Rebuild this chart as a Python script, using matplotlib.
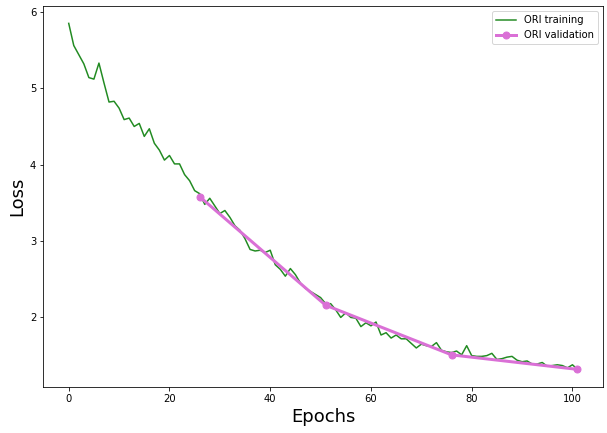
import matplotlib
matplotlib.use("Agg")
import matplotlib.pyplot as plt
import numpy as np

# training loss per epoch
train_loss = [
    5.85, 5.56, 5.44, 5.32, 5.14, 5.12, 5.33, 5.07, 4.82, 4.83,
    4.74, 4.59, 4.61, 4.50, 4.54, 4.37, 4.47, 4.28, 4.19, 4.06,
    4.12, 4.01, 4.01, 3.87, 3.79, 3.66, 3.62, 3.48, 3.56, 3.46,
    3.36, 3.40, 3.31, 3.20, 3.14, 3.03, 2.89, 2.87, 2.88, 2.85,
    2.88, 2.69, 2.63, 2.54, 2.64, 2.56, 2.45, 2.38, 2.34, 2.30,
    2.26, 2.18, 2.18, 2.10, 2.00, 2.06, 2.00, 1.99, 1.88, 1.93,
    1.89, 1.94, 1.77, 1.80, 1.73, 1.77, 1.72, 1.72, 1.66, 1.60,
    1.65, 1.63, 1.62, 1.67, 1.57, 1.55, 1.54, 1.56, 1.51, 1.63,
    1.50, 1.49, 1.49, 1.50, 1.53, 1.45, 1.46, 1.48, 1.49, 1.44,
    1.42, 1.43, 1.39, 1.39, 1.41, 1.36, 1.37, 1.38, 1.37, 1.34,
    1.38, 1.32,
]
train_epochs = np.arange(len(train_loss))

val_epochs = [26, 51, 76, 101]
val_loss = [3.58, 2.16, 1.51, 1.32]

fig = plt.figure(figsize=(607 / 72, 433 / 72), dpi=72)
ax = fig.add_axes([0.0713, 0.107, 0.922, 0.879])

ax.plot(train_epochs, train_loss, color="forestgreen", linewidth=1.5,
        label="ORI training")
ax.plot(val_epochs, val_loss, color="orchid", linewidth=3, marker="o",
        markersize=7, label="ORI validation")

ax.set_xlabel("Epochs", fontsize=18)
ax.set_ylabel("Loss", fontsize=18)
ax.tick_params(labelsize=10)
ax.legend(loc="upper right", fontsize=10)

fig.savefig("out.png", dpi=72)
